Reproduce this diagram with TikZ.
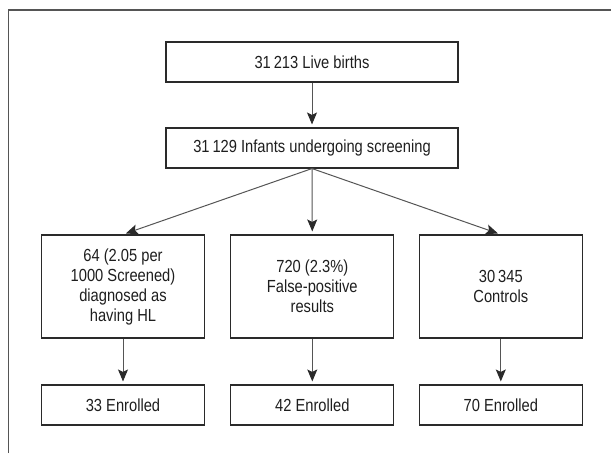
\documentclass[tikz,border=0pt]{standalone}
\usepackage{fontspec}
\setmainfont{Liberation Sans}[FakeStretch=0.84]
\usetikzlibrary{arrows.meta}
\definecolor{boxline}{HTML}{2A2A2A}
\definecolor{arrline}{HTML}{555555}
\definecolor{txt}{HTML}{1E1E1E}
\begin{document}
\begin{tikzpicture}[x=1pt,y=-1pt,
  box/.style={draw=boxline, line width=1.1pt, rectangle, inner sep=0pt,
    align=center, text=txt, font=\fontsize{17.5}{20}\selectfont},
  wide/.style={box, minimum width=292pt, minimum height=40pt},
  col/.style={box, minimum width=163pt, minimum height=103pt},
  enr/.style={box, minimum width=163pt, minimum height=40pt},
  arr/.style={draw=arrline, line width=1pt,
    -{Stealth[length=12pt,width=10pt,inset=2.5pt,color=boxline]}, shorten >=3pt}]
\useasboundingbox (0,0) rectangle (611,453);
\draw[color=arrline, line width=1.5pt] (8.5,453) -- (8.5,10) -- (611,10);
\node[wide] (live) at (312,62) {31\,213 Live births};
\node[wide] (scr) at (312,148) {31\,129 Infants undergoing screening};
\node[col] (hl) at (123,286.5) {64 (2.05 per\\1000 Screened)\\diagnosed as\\having HL};
\node[col] (fp) at (312.3,286.5) {720 (2.3\%)\\False-positive\\results};
\node[col] (ctl) at (500.8,286.5) {30\,345\\Controls};
\node[enr] (e1) at (123,405) {33 Enrolled};
\node[enr] (e2) at (312.3,405) {42 Enrolled};
\node[enr] (e3) at (500.8,405) {70 Enrolled};
\draw[arr] (live.south) -- (scr.north);
\draw[arr] (scr.south) -- (hl.north);
\draw[arr] (scr.south) -- (fp.north);
\draw[arr] (scr.south) -- (ctl.north);
\draw[arr] (hl.south) -- (e1.north);
\draw[arr] (fp.south) -- (e2.north);
\draw[arr] (ctl.south) -- (e3.north);
\end{tikzpicture}
\end{document}
